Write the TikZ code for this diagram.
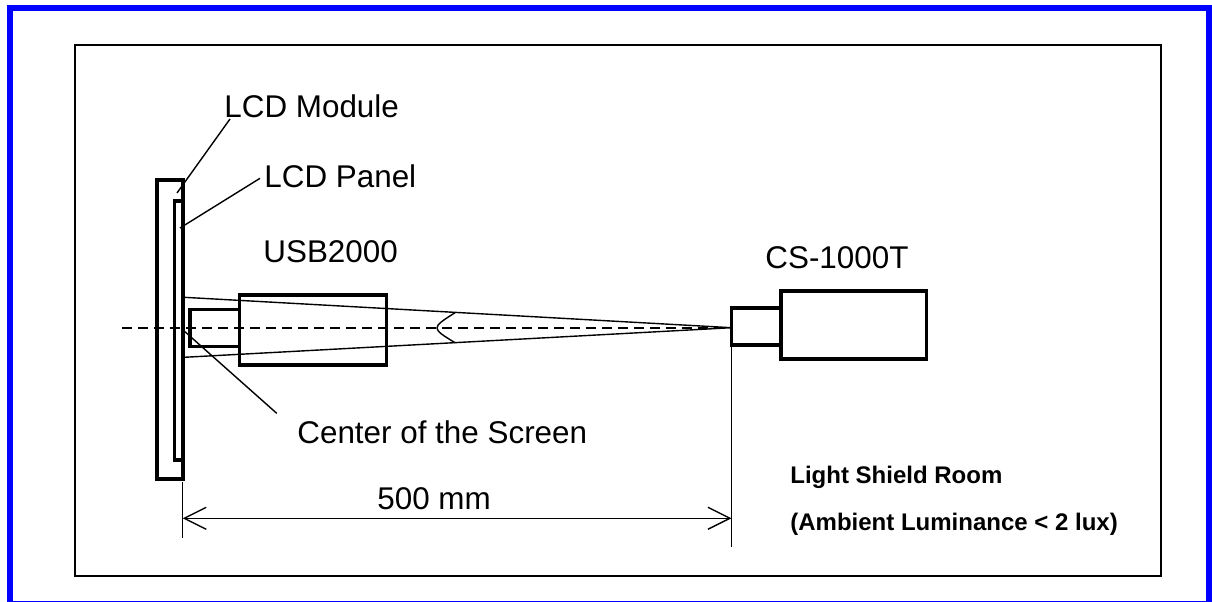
\documentclass[tikz,border=0pt]{standalone}
\usepackage{fontspec}
\setmainfont{Liberation Sans}
\usetikzlibrary{positioning, arrows.meta}

\tikzset{
  label text/.style={anchor=base west, inner sep=0pt, font=\fontsize{15.7}{18}\selectfont},
  room text/.style={anchor=base west, inner sep=0pt, font=\fontsize{12}{14}\selectfont\bfseries},
  part/.style={draw, line width=1.75pt},
  leader/.style={line width=0.7pt},
  dimarrow/.style={line width=0.7pt, {Straight Barb[length=11pt, width=11pt, line width=0.7pt]}-{Straight Barb[length=11pt, width=11pt, line width=0.7pt]}}
}

\begin{document}
\begin{tikzpicture}[x=0.5pt, y=-0.5pt]
        \useasboundingbox (0,0) rectangle (1212,601);

        % Draw the frames
        \draw[blue, line width=2.75pt] (9.75,8) rectangle (1208.8,604);
        \draw[line width=0.75pt] (75,45) rectangle (1161,576);

        % Draw the LCD module and the LCD panel
        \draw[part] (157,180) rectangle (183,479);
        \draw[part] (174.5,201) rectangle (183,460);
        \coordinate (module) at (177,193);
        \coordinate (panel) at (180,228);
        \coordinate (screen) at (183,330);

        % Draw the USB2000
        \draw[part] (190,309.5) rectangle (239.5,346.5);
        \draw[part] (239.5,295) rectangle (386.5,365);

        % Draw the CS-1000T
        \draw[part] (731.5,308) rectangle (781,345);
        \draw[part] (781,291) rectangle (926.5,359);
        \coordinate (apex) at (731.5,327.7);

        % Draw the optical axis and the measuring cone
        \draw[line width=0.85pt, dash pattern=on 5pt off 3pt] (122,327.7) -- (apex);
        \coordinate (cone top) at (184,297.3);
        \coordinate (cone bottom) at (184,357.3);
        \draw[leader] (cone top) -- (apex) -- (cone bottom);
        \draw[leader] (455,312.7) .. controls (431,328) .. (455,342.7);

        % Draw the labels
        \node[label text] (lcd module) at (224,117) {LCD Module};
        \node[label text] (lcd panel) at (264,187) {LCD Panel};
        \node[label text] (usb) at (263,262.7) {USB2000};
        \node[label text] (cs) at (765,268.3) {CS-1000T};
        \node[label text] (center) at (297,443.3) {Center of the Screen};
        \node[label text] (dist) at (377,509) {500 mm};
        \node[room text] (room) at (790,483.3) {Light Shield Room};
        \node[room text] (ambient) at (790,530) {(Ambient Luminance < 2 lux)};

        % Draw the leader lines
        \draw[leader] (230,119) -- (module);
        \draw[leader] (260,178.3) -- (panel);
        \draw[leader] (276.7,413.3) -- (screen);

        % Draw the 500 mm dimension
        \coordinate (dim left) at (182.7,518.3);
        \coordinate (dim right) at (731.5,518.3);
        \draw[leader] (182.7,481.7) -- (182.7,538.3);
        \draw[leader] (731.5,345) -- (731.5,546.7);
        \draw[dimarrow] (dim left) -- (dim right);
\end{tikzpicture}
\end{document}
